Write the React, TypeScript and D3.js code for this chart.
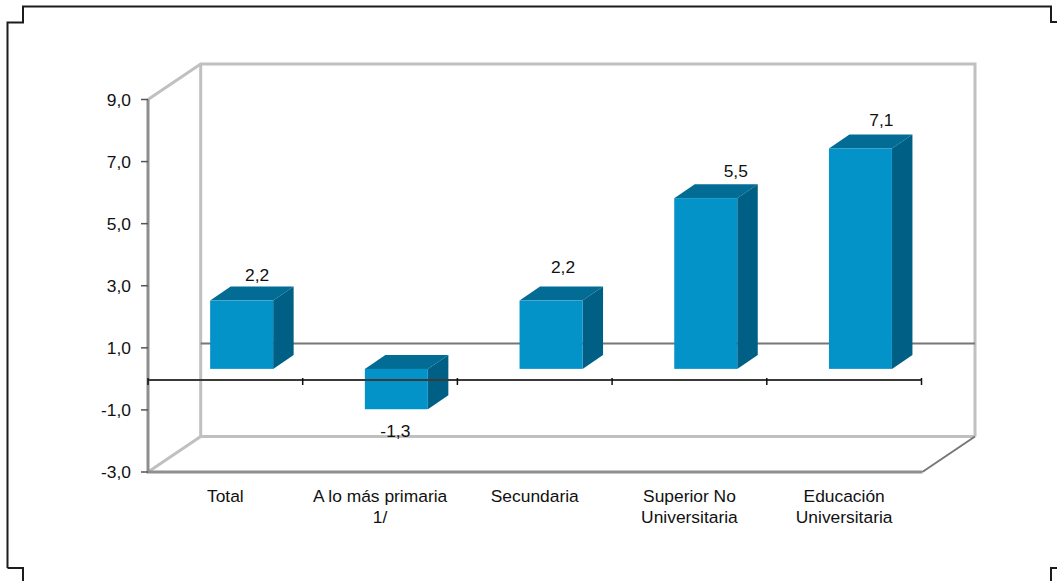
import React from "react";
import * as d3 from "d3";

const categories: string[][] = [
  ["Total"],
  ["A lo más primaria", "1/"],
  ["Secundaria"],
  ["Superior No", "Universitaria"],
  ["Educación", "Universitaria"],
];
const values = [2.2, -1.3, 2.2, 5.5, 7.1];
const valueLabels = ["2,2", "-1,3", "2,2", "5,5", "7,1"];
const yTicks = [9, 7, 5, 3, 1, -1, -3];
const yTickLabels = ["9,0", "7,0", "5,0", "3,0", "1,0", "-1,0", "-3,0"];
const labelShift: [number, number][] = [[-0.5, 0], [0, 1], [-4, -8], [14, -1], [5, -2]];

const W = 1057, H = 581;
const FONT = "'Liberation Sans', Arial, sans-serif";
const FS = 17.4;
const y = d3.scaleLinear().domain([-3, 9]).range([472, 99.5]);
const xBand = d3.scaleBand<number>().domain(d3.range(5)).range([148, 921.5]).paddingInner(0).paddingOuter(0);
const wallDx = 52.7, wallDy = -35.5;
const barShift = 16.3, barOffY = -10, barDx = 20.5, barDy = -14, barW = 63;
const wallRight = 975;
const frontRight = wallRight - wallDx;

const poly = (pts: [number, number][]) => {
  const p = d3.path();
  pts.forEach((q, i) => (i ? p.lineTo(q[0], q[1]) : p.moveTo(q[0], q[1])));
  return p.toString();
};

export default function App() {
  const x0 = xBand.range()[0];
  const yTop = y(9), yBot = y(-3), yZero = y(0);
  const light = "#c0c0c0", mid = "#8e8e8e";
  return (
    <svg width={W} height={H} viewBox={`0 0 ${W} ${H}`}
      style={{ position: "absolute", left: 0, top: 0, background: "#fff" }} fontFamily={FONT}>
      {/* frame */}
      <g fill="none" stroke="#1c1c1c" strokeWidth={2}>
        <path d={poly([[7.5, 568], [7.5, 22.5], [23, 22.5], [23, 6.5], [1051, 6.5], [1051, 22], [1057, 22]])} />
        <path d={poly([[7.5, 568], [23, 568], [23, 581]])} />
        <path d={poly([[1057, 568], [1051, 568], [1051, 581]])} />
      </g>
      {/* walls */}
      <g fill="none" strokeWidth={3}>
        <path stroke={light} d={poly([[x0, yTop], [x0 + wallDx, yTop + wallDy], [wallRight, yTop + wallDy], [wallRight, yBot + wallDy]])} />
        <path stroke={light} d={poly([[x0 + wallDx, yTop + wallDy], [x0 + wallDx, yBot + wallDy], [wallRight, yBot + wallDy]])} />
        <path stroke={light} d={poly([[x0, yBot], [x0 + wallDx, yBot + wallDy]])} />
        <path stroke="#777" strokeWidth={2} d={poly([[frontRight, yBot], [wallRight, yBot + wallDy]])} />
        <path stroke={mid} d={poly([[x0, yTop], [x0, yBot], [frontRight, yBot]])} />
      </g>
      {/* zero plane at the back wall */}
      <line x1={x0 + wallDx} x2={wallRight} y1={yZero + wallDy} y2={yZero + wallDy} stroke="#777" strokeWidth={2} />
      {/* y ticks */}
      {yTicks.map((t, i) => (
        <g key={t}>
          <line x1={141} x2={x0} y1={y(t)} y2={y(t)} stroke="#555" strokeWidth={1.5} />
          <text x={131} y={y(t) + 6} textAnchor="end" fontSize={FS} fill="#111">{yTickLabels[i]}</text>
        </g>
      ))}
      {/* bars */}
      {values.map((v, i) => {
        const cx = xBand(i)! + xBand.bandwidth() / 2 + barShift;
        const l = cx - barW / 2, r = cx + barW / 2;
        const top = y(Math.max(v, 0)) + barOffY, bot = y(Math.min(v, 0)) + barOffY;
        return (
          <g key={i}>
            <path fill="#036c95" d={poly([[l, top], [l + barDx, top + barDy], [r + barDx, top + barDy], [r, top]])} />
            <path fill="#005f84" d={poly([[r, top], [r + barDx, top + barDy], [r + barDx, bot + barDy], [r, bot]])} />
            <rect x={l} y={top} width={barW} height={bot - top} fill="#0393c9" />
          </g>
        );
      })}
      {/* x axis */}
      <line x1={x0} x2={xBand.range()[1]} y1={380} y2={380} stroke="#3a3a3a" strokeWidth={2} />
      {d3.range(6).map(i => {
        const tx = x0 + i * xBand.step();
        return <line key={i} x1={tx} x2={tx} y1={378} y2={385} stroke="#111" strokeWidth={1.5} />;
      })}
      {/* value labels */}
      {values.map((v, i) => {
        const cx = xBand(i)! + xBand.bandwidth() / 2 + barShift + 20 - 4;
        const yy = v >= 0 ? y(v) + barOffY + barDy - 6 : y(v) + barOffY + 27;
        return (
          <text key={i} x={(v >= 0 ? cx : cx - 17) + labelShift[i][0]} y={yy + labelShift[i][1]}
            textAnchor="middle" fontSize={FS} fill="#111">{valueLabels[i]}</text>
        );
      })}
      {/* category labels */}
      {categories.map((lines, i) => (
        <text key={i} textAnchor="middle" fontSize={FS} fill="#111">
          {lines.map((s, k) => (
            <tspan key={k} x={xBand(i)! + xBand.bandwidth() / 2} y={502 + k * 21}>{s}</tspan>
          ))}
        </text>
      ))}
    </svg>
  );
}
